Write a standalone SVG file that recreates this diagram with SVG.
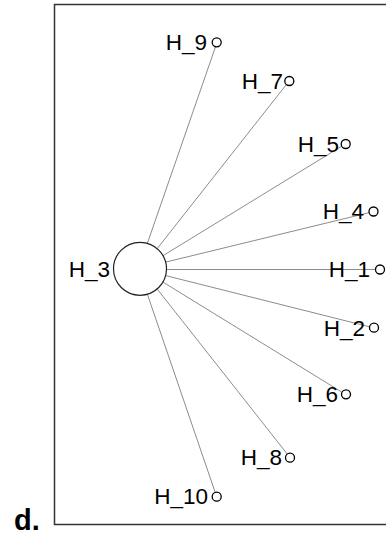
<svg xmlns="http://www.w3.org/2000/svg" width="386" height="540" viewBox="0 0 386 540">
<style>
.lbl{font-family:"Liberation Sans",Arial,sans-serif;font-size:22.5px;fill:#000;text-anchor:end}
.e{stroke:#8c8c8c;stroke-width:1;fill:none}
.leaf{fill:#fff;stroke:#000;stroke-width:1.3}
</style>
<rect x="0" y="0" width="386" height="540" fill="#fff"/>
<rect x="54.5" y="4.5" width="340" height="520" fill="none" stroke="#333" stroke-width="1.5"/>
<text x="14" y="530" font-family="Liberation Sans,Arial,sans-serif" font-size="29" font-weight="bold">d.</text>
<g id="connectors">
<line class="e" x1="147.2" y1="243.8" x2="215.6" y2="46.5"/>
<line class="e" x1="156.9" y1="249" x2="286.4" y2="84.5"/>
<line class="e" x1="162.8" y1="255.8" x2="341.5" y2="146.3"/>
<line class="e" x1="165.3" y1="262.2" x2="368.9" y2="212.7"/>
<line class="e" x1="166.5" y1="269.5" x2="375.5" y2="269.5" stroke="#555"/>
<line class="e" x1="165.3" y1="275.5" x2="369.1" y2="326.7"/>
<line class="e" x1="162.8" y1="282" x2="341.6" y2="392"/>
<line class="e" x1="157" y1="288.8" x2="287.4" y2="454.2"/>
<line class="e" x1="147.3" y1="294" x2="215.2" y2="492.4"/>
</g>
<g id="H_3"><circle cx="140" cy="268.8" r="26.5" fill="#fff" stroke="#222" stroke-width="1.2"/><text class="lbl" x="110" y="277">H_3</text></g>
<g id="H_9"><circle class="leaf" cx="216.7" cy="42.3" r="4.5"/><text class="lbl" x="207" y="50">H_9</text></g>
<g id="H_7"><circle class="leaf" cx="289.3" cy="81" r="4.5"/><text class="lbl" x="283" y="89">H_7</text></g>
<g id="H_5"><circle class="leaf" cx="345.7" cy="144" r="4.5"/><text class="lbl" x="339" y="152">H_5</text></g>
<g id="H_4"><circle class="leaf" cx="373.5" cy="211.5" r="4.5"/><text class="lbl" x="364" y="219">H_4</text></g>
<g id="H_1"><circle class="leaf" cx="380" cy="269.5" r="4.5"/><text class="lbl" x="370" y="277">H_1</text></g>
<g id="H_2"><circle class="leaf" cx="374" cy="327.7" r="4.5"/><text class="lbl" x="365" y="336">H_2</text></g>
<g id="H_6"><circle class="leaf" cx="346" cy="394.3" r="4.5"/><text class="lbl" x="338" y="402">H_6</text></g>
<g id="H_8"><circle class="leaf" cx="290" cy="457.7" r="4.5"/><text class="lbl" x="282" y="465">H_8</text></g>
<g id="H_10"><circle class="leaf" cx="216.7" cy="496.7" r="4.5"/><text class="lbl" x="208" y="504">H_10</text></g>
</svg>
